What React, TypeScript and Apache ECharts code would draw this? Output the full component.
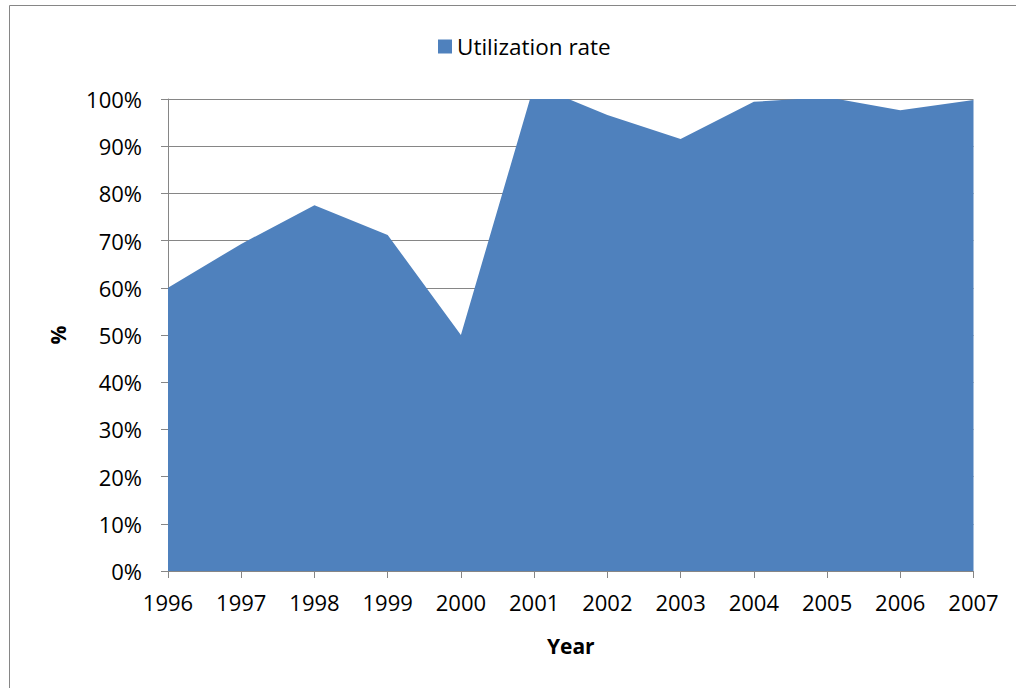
import React, { useEffect, useRef } from "react";
import * as echarts from "echarts";

const years = ["1996", "1997", "1998", "1999", "2000", "2001", "2002", "2003", "2004", "2005", "2006", "2007"];
const utilizationRate = [60, 69.3, 77.5, 71.2, 50, 103, 96.6, 91.5, 99.4, 100.4, 97.6, 99.8];
const seriesName = "Utilization rate";
const xAxisTitle = "Year";
const yAxisTitle = "%";

export default function App() {
  const ref = useRef<HTMLDivElement>(null);
  useEffect(() => {
    if (!ref.current) return;
    const chart = echarts.init(ref.current, undefined, { renderer: "svg" });
    const font = "'Open Sans', 'DejaVu Sans', sans-serif";
    chart.setOption({
      animation: false,
      backgroundColor: "#ffffff",
      textStyle: { fontFamily: font },
      graphic: [
        {
          type: "rect",
          shape: { x: 9.5, y: 5.5, width: 1020, height: 700 },
          style: { fill: "none", stroke: "#868686", lineWidth: 1 },
          silent: true,
        },
      ],
      legend: {
        left: 433,
        top: 30,
        itemWidth: 14,
        itemHeight: 14,
        itemGap: 8,
        icon: "rect",
        textStyle: { fontFamily: font, fontSize: 22.5, color: "#000" },
        data: [seriesName],
      },
      grid: { left: 168, right: 42.5, top: 99, bottom: 117, containLabel: false },
      xAxis: {
        type: "category",
        data: years,
        boundaryGap: false,
        name: xAxisTitle,
        nameLocation: "middle",
        nameGap: 64,
        nameTextStyle: { fontFamily: font, fontSize: 21, fontWeight: "bold", color: "#000" },
        axisLine: { show: true, lineStyle: { color: "#868686", width: 1 } },
        axisTick: { show: true, length: 7, inside: false, lineStyle: { color: "#868686" }, alignWithLabel: true },
        axisLabel: { fontFamily: font, fontSize: 22, color: "#000", margin: 20, interval: 0 },
        splitLine: { show: false },
      },
      yAxis: {
        type: "value",
        min: 0,
        max: 100,
        interval: 10,
        name: yAxisTitle,
        nameLocation: "middle",
        nameGap: 100,
        nameRotate: 90,
        nameTextStyle: { fontFamily: font, fontSize: 21, fontWeight: "bold", color: "#000" },
        axisLine: { show: true, lineStyle: { color: "#868686", width: 1 } },
        axisTick: { show: true, length: 7, inside: false, lineStyle: { color: "#868686" } },
        axisLabel: { fontFamily: font, fontSize: 22, color: "#000", margin: 26, formatter: "{value}%" },
        splitLine: { show: true, lineStyle: { color: "#868686", width: 1 } },
      },
      series: [
        {
          name: seriesName,
          type: "line",
          data: utilizationRate,
          symbol: "none",
          showSymbol: false,
          clip: true,
          lineStyle: { width: 0, color: "#4F81BD" },
          itemStyle: { color: "#4F81BD" },
          areaStyle: { color: "#4F81BD", opacity: 1 },
          z: 3,
        },
      ],
    });
    return () => chart.dispose();
  }, []);
  return (
    <div
      ref={ref}
      style={{ position: "fixed", left: 0, top: 0, width: 1016, height: 688, background: "#fff" }}
    />
  );
}
